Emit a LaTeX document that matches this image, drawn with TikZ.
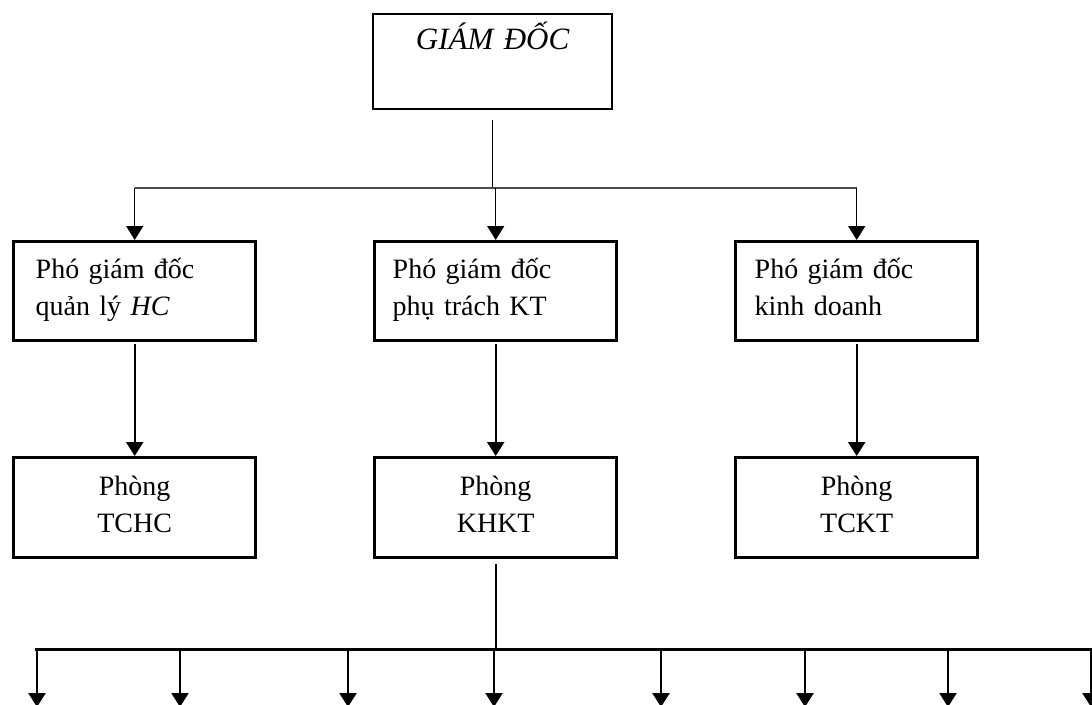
\documentclass[tikz,border=0pt]{standalone}
\usepackage{fontspec}
\setmainfont{Liberation Serif}
\usetikzlibrary{arrows.meta}
\begin{document}
\begin{tikzpicture}[x=1pt,y=-1pt,
  every node/.style={font=\fontsize{28}{37}\selectfont, inner sep=0pt, anchor=north west},
  headbox/.style={draw, line width=2.2pt, minimum width=239pt, minimum height=95pt,
    font=\itshape\fontsize{31}{37}\selectfont, align=center, text width=239pt,
    text height=35pt, text depth=60pt},
  vicebox/.style={draw, line width=3.4pt, minimum width=242pt, minimum height=99pt,
    align=left, text height=37pt, text depth=62pt},
  deptbox/.style={draw, line width=3.4pt, minimum width=242pt, minimum height=100pt,
    align=center, text width=242pt, text height=38pt, text depth=62pt},
  tip/.style={-{Triangle[width=17pt,length=14pt]}},
  thinarrow/.style={tip, line width=1.5pt},
  midarrow/.style={tip, line width=2.3pt},
  midline/.style={line width=2.3pt},
  greybus/.style={line width=1.7pt, draw=black!70},
  thickbus/.style={line width=3pt}
]
\useasboundingbox (0,0) rectangle (1092,704);

% director
\node[headbox] (gd) at (372,13) {GIÁM ĐỐC};

% deputy directors
\node[vicebox, text width=198pt, inner xsep=22pt] (p1) at (12,240) {Phó giám đốc\\quản lý \textit{HC}};
\node[vicebox, text width=206pt, inner xsep=18pt] (p2) at (373,240) {Phó giám đốc\\phụ trách KT};
\node[vicebox, text width=204pt, inner xsep=19pt] (p3) at (734,240) {Phó giám đốc\\kinh doanh};

% departments
\node[deptbox] (r1) at (12,456) {Phòng\\TCHC};
\node[deptbox] (r2) at (373,456) {Phòng\\KHKT};
\node[deptbox] (r3) at (734,456) {Phòng\\TCKT};

% upper distribution bus
\coordinate (bus) at (0,188);
\draw[line width=1.5pt] (gd.south) ++(0,10) -- (gd.south |- bus);
\draw[greybus] (p1.north |- bus) -- (p3.north |- bus);
\draw[thinarrow] (p1.north |- bus) -- (p1.north);
\draw[thinarrow] (p2.north |- bus) -- (p2.north);
\draw[thinarrow] (p3.north |- bus) -- (p3.north);

% deputies to departments
\draw[midarrow, shorten <=2pt] (p1.south) -- (r1.north);
\draw[midarrow, shorten <=2pt] (p2.south) -- (r2.north);
\draw[midarrow, shorten <=2pt] (p3.south) -- (r3.north);

% lower distribution bus
\coordinate (lbus) at (0,649);
\coordinate (bl) at (35,649);
\coordinate (br) at (1096,649);
\draw[midline, shorten <=5pt] (r2.south) -- (r2.south |- lbus);
\draw[thickbus] (bl) -- (br);
\foreach \x [count=\i] in {37,180,348,494,661,805,948,1091} {
  \coordinate (d\i) at (\x,707);
  \draw[midarrow] (d\i |- lbus) -- (d\i);
}
\end{tikzpicture}
\end{document}
